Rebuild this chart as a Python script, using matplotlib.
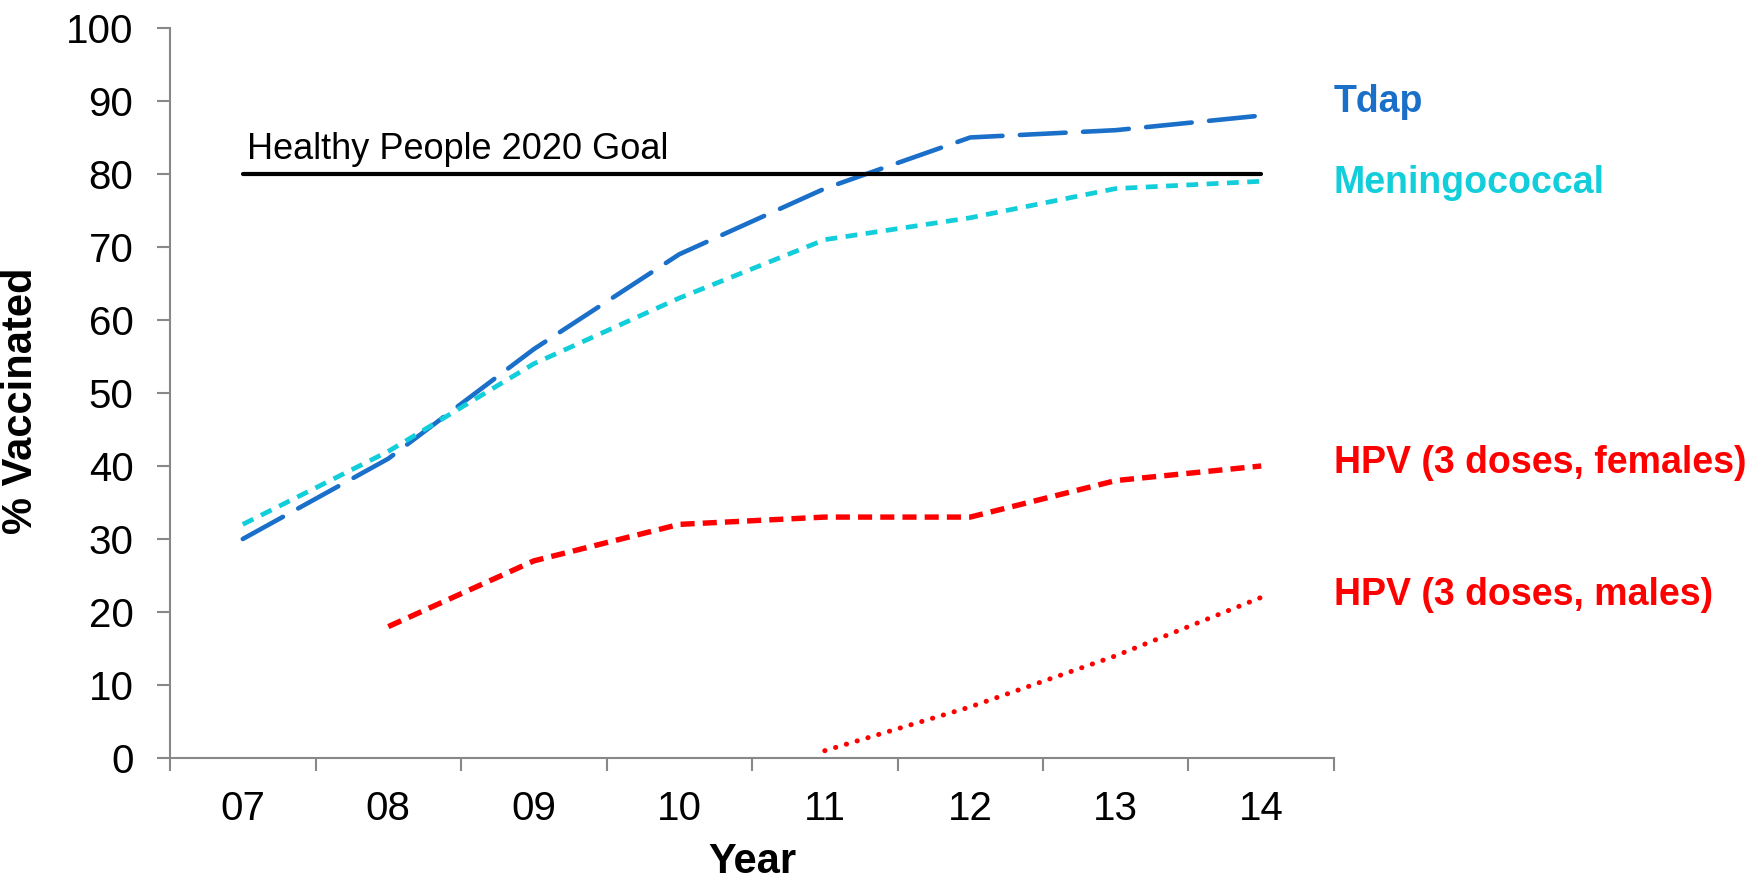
import numpy as np
import matplotlib.pyplot as plt

plt.rcParams['font.family'] = ['Liberation Sans', 'DejaVu Sans']

years = ['07', '08', '09', '10', '11', '12', '13', '14']
tdap = [30, 41, 56, 69, 78, 85, 86, 88]
mening = [32, 42, 54, 63, 71, 74, 78, 79]
hpv_f = [np.nan, 18, 27, 32, 33, 33, 38, 40]
hpv_m = [np.nan, np.nan, np.nan, np.nan, 1, 7, 14, 22]
goal = 80

series_names = ['Tdap', 'Meningococcal', 'HPV (3 doses, females)', 'HPV (3 doses, males)']

c_tdap = '#1A6FC9'
c_men = '#12CDDA'
c_red = '#FF0000'

fig = plt.figure(figsize=(17.55, 8.82), dpi=100)
ax = fig.add_axes([0.0969, 0.1406, 0.6632, 0.8277])

x = np.arange(len(years))

ax.plot(x, tdap, color=c_tdap, lw=3.3, dashes=(10, 3.8), dash_capstyle='round')
ax.plot(x, mening, color=c_men, lw=3.4, dashes=(2.5, 1.8), dash_capstyle='butt')
ax.plot(x, hpv_f, color=c_red, lw=3.9, dashes=(2.6, 1.5), dash_capstyle='butt')
ax.plot(x, hpv_m, color=c_red, lw=3.6, dashes=(0.05, 2.2), dash_capstyle='round')

# goal line across the whole period
ax.plot([x[0], x[-1]], [goal, goal], color='black', lw=3.0, solid_capstyle='round')
ax.text(x[0] + 0.03, goal + 2.0, 'Healthy People 2020 Goal', fontsize=26,
        ha='left', va='baseline')

# series names to the right of the plot
label_y = [88.5, 77.4, 39.0, 21.0]
colors = [c_tdap, c_men, c_red, c_red]
for name, yv, c in zip(series_names, label_y, colors):
    ax.annotate(name, xy=(7.5, yv), xytext=(0, 0), textcoords='offset points',
                fontsize=27, fontweight='bold', color=c, ha='left', va='baseline',
                annotation_clip=False)

ax.set_xlim(-0.5, len(years) - 0.5)
ax.set_ylim(0, 100)
ax.set_yticks(range(0, 101, 10))
ax.set_xticks(x)
ax.set_xticklabels(years)
ax.set_xticks(np.arange(-0.5, len(years) + 0.5, 1), minor=True)

ax.tick_params(axis='x', which='major', length=0, pad=23, labelsize=29)
ax.tick_params(axis='x', which='minor', length=9.4, width=1.5, color='#888888')
ax.tick_params(axis='y', length=9.4, width=1.5, color='#888888', pad=17, labelsize=29)

for s in ['top', 'right']:
    ax.spines[s].set_visible(False)
for s in ['left', 'bottom']:
    ax.spines[s].set_color('#888888')
    ax.spines[s].set_linewidth(1.5)

ax.set_ylabel('% Vaccinated', fontsize=30, fontweight='bold')
ax.yaxis.set_label_coords(-0.111, 0.489)
ax.set_xlabel('Year', fontsize=30, fontweight='bold', va='baseline')
ax.xaxis.set_label_coords(0.5, -0.158)

fig.savefig('out.png', dpi=100)
